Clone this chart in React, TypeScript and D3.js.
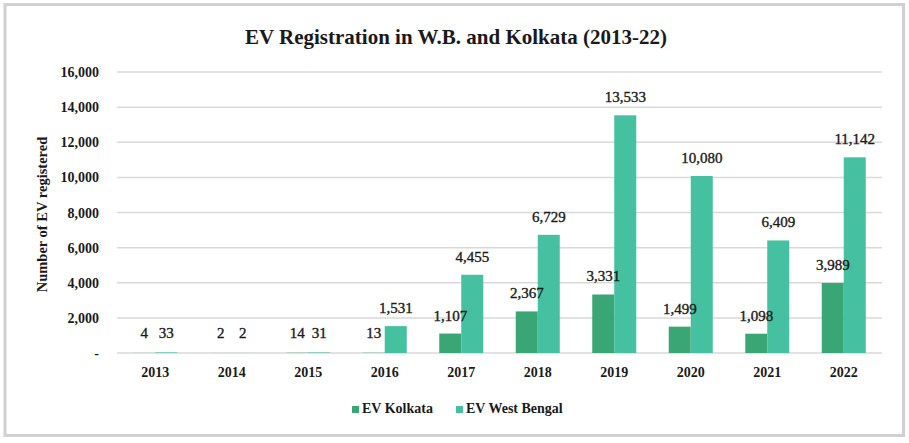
import React from "react";
import * as d3 from "d3";

const years = ["2013", "2014", "2015", "2016", "2017", "2018", "2019", "2020", "2021", "2022"];
const evKolkata = [4, 2, 14, 13, 1107, 2367, 3331, 1499, 1098, 3989];
const evWestBengal = [33, 2, 31, 1531, 4455, 6729, 13533, 10080, 6409, 11142];
const yTicks = [0, 2000, 4000, 6000, 8000, 10000, 12000, 14000, 16000];
const seriesNames = ["EV Kolkata", "EV West Bengal"];
const colors = ["#3BA675", "#45C1A1"];

const W = 909, H = 443;
const left = 117, right = 882, top = 72, bottom = 353;
const font = "'Liberation Serif', 'Times New Roman', serif";

export default function App() {
  const x = d3.scaleBand<string>().domain(years).range([left, right]).paddingInner(0).paddingOuter(0);
  const y = d3.scaleLinear().domain([0, 16000]).range([bottom, top]);
  const barW = 22;
  const inner = d3.scaleBand<string>().domain(seriesNames).range([0, barW * 2]);
  const fmt = d3.format(",");
  const series = [evKolkata, evWestBengal];

  const marks = years.flatMap((yr, i) => {
    const cx = (x(yr) as number) + x.bandwidth() / 2;
    return series.map((vals, s) => {
      const bx = cx - barW + (inner(seriesNames[s]) as number);
      const v = vals[i];
      return { key: `${yr}-${s}`, bx, v, yt: y(v), s };
    });
  });

  return (
    <svg width={W} height={H} style={{ position: "absolute", left: 0, top: 0, background: "#fff" }} fontFamily={font}>
      <rect x={5} y={4.5} width={898.5} height={431} fill="#fff" stroke="#d0d0d0" strokeWidth={3} />
      <text x={456} y={44} textAnchor="middle" fontSize={21} fontWeight="bold" fill="#1a1a1a">
        EV Registration in W.B. and Kolkata (2013-22)
      </text>
      {yTicks.map((t) => (
        <g key={t}>
          <line x1={left} x2={right} y1={y(t)} y2={y(t)} stroke="#d9d9d9" strokeWidth={1.5} />
          <text x={99} y={y(t) + 5} textAnchor="end" fontSize={14} fontWeight="bold" fill="#1a1a1a">
            {t === 0 ? "-" : fmt(t)}
          </text>
        </g>
      ))}
      <text transform={`translate(47,${(top + bottom) / 2 + 2}) rotate(-90)`} textAnchor="middle" fontSize={14.5} fontWeight="bold" fill="#1a1a1a">
        Number of EV registered
      </text>
      {marks.map((m) => (
        <rect key={m.key} x={m.bx} y={m.yt} width={barW} height={bottom - m.yt} fill={colors[m.s]} />
      ))}
      {marks.map((m) => (
        <text key={m.key} x={m.bx + barW / 2} y={Math.min(m.yt, bottom - 2) - 13} textAnchor="middle" fontSize={15} fill="#1a1a1a" stroke="#1a1a1a" strokeWidth={0.35}>
          {fmt(m.v)}
        </text>
      ))}
      {years.map((yr) => (
        <text key={yr} x={(x(yr) as number) + x.bandwidth() / 2} y={377} textAnchor="middle" fontSize={14} fontWeight="bold" fill="#1a1a1a">
          {yr}
        </text>
      ))}
      <g>
        <rect x={352} y={406} width={7} height={7} fill={colors[0]} />
        <text x={362} y={413} fontSize={14} fontWeight="bold" fill="#1a1a1a">{seriesNames[0]}</text>
        <rect x={456} y={406} width={7} height={7} fill={colors[1]} />
        <text x={466} y={413} fontSize={14} fontWeight="bold" fill="#1a1a1a">{seriesNames[1]}</text>
      </g>
    </svg>
  );
}
